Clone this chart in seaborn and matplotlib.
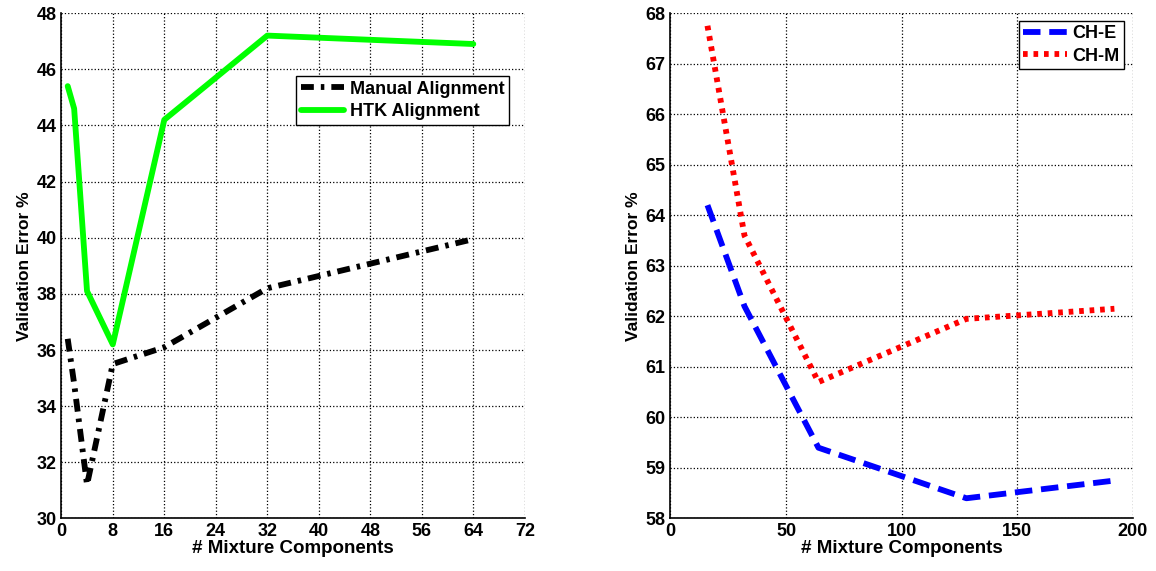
import matplotlib.pyplot as plt
import seaborn as sns

# left panel: manual vs HTK alignment
left_x = [1, 2, 4, 8, 16, 32, 64]
manual_err = [36.4, 34.8, 31.2, 35.5, 36.1, 38.2, 39.95]
htk_err = [45.4, 44.6, 38.1, 36.2, 44.2, 47.2, 46.9]

# right panel: CH-E vs CH-M
right_x = [16, 32, 64, 128, 192]
che_err = [64.2, 62.2, 59.4, 58.4, 58.75]
chm_err = [67.75, 63.6, 60.7, 61.95, 62.15]

sns.set_style('white')
plt.rcParams['font.family'] = ['Liberation Sans', 'DejaVu Sans']
plt.rcParams['font.weight'] = 'bold'
plt.rcParams['text.color'] = 'black'
plt.rcParams['xtick.color'] = 'black'
plt.rcParams['ytick.color'] = 'black'
plt.rcParams['axes.labelcolor'] = 'black'

fig = plt.figure(figsize=(11.56, 5.71), dpi=100)
ax1 = fig.add_axes([0.053, 0.092, 0.401, 0.885])
ax2 = fig.add_axes([0.580, 0.092, 0.400, 0.885])

lw = 4.2
sns.lineplot(x=left_x, y=manual_err, ax=ax1, color='black', lw=lw,
             linestyle=(0, (2.2, 1.2, 0.6, 1.2)), label='Manual Alignment')
sns.lineplot(x=left_x, y=htk_err, ax=ax1, color='#00ff00', lw=lw,
             label='HTK Alignment')
ax1.set_xlim(0, 72)
ax1.set_ylim(30, 48)
ax1.set_xticks(range(0, 73, 8))
ax1.set_yticks(range(30, 49, 2))
ax1.legend(loc='upper right', bbox_to_anchor=(0.985, 0.893), fancybox=False,
           edgecolor='black', framealpha=1, fontsize=13, handlelength=2.4,
           borderpad=0.25, labelspacing=0.3, handletextpad=0.3)

sns.lineplot(x=right_x, y=che_err, ax=ax2, color='blue', lw=lw,
             linestyle=(0, (3, 1.5)), label='CH-E')
sns.lineplot(x=right_x, y=chm_err, ax=ax2, color='red', lw=lw,
             linestyle=(0, (0.8, 1.0)), label='CH-M')
ax2.set_xlim(0, 200)
ax2.set_ylim(58, 68)
ax2.set_xticks(range(0, 201, 50))
ax2.set_yticks(range(58, 69, 1))
ax2.legend(loc='upper right', bbox_to_anchor=(1.0, 1.003), fancybox=False,
           edgecolor='black', framealpha=1, fontsize=13, handlelength=2.4,
           borderpad=0.25, labelspacing=0.3, handletextpad=0.3)

for ax in (ax1, ax2):
    ax.grid(True, color='black', linestyle=':', linewidth=0.9)
    ax.set_axisbelow(True)
    for side in ('top', 'right'):
        ax.spines[side].set_visible(False)
    for side in ('left', 'bottom'):
        ax.spines[side].set_color('black')
        ax.spines[side].set_linewidth(1.2)
    ax.tick_params(direction='in', labelsize=13, length=4, color='black')
    for lab in ax.get_xticklabels() + ax.get_yticklabels():
        lab.set_fontweight('bold')
    ax.set_xlabel('# Mixture Components', fontsize=13.5, fontweight='bold', labelpad=0)
    ax.set_ylabel('Validation Error %', fontsize=12.5, fontweight='bold', labelpad=3)

fig.savefig('out.png', dpi=100)
